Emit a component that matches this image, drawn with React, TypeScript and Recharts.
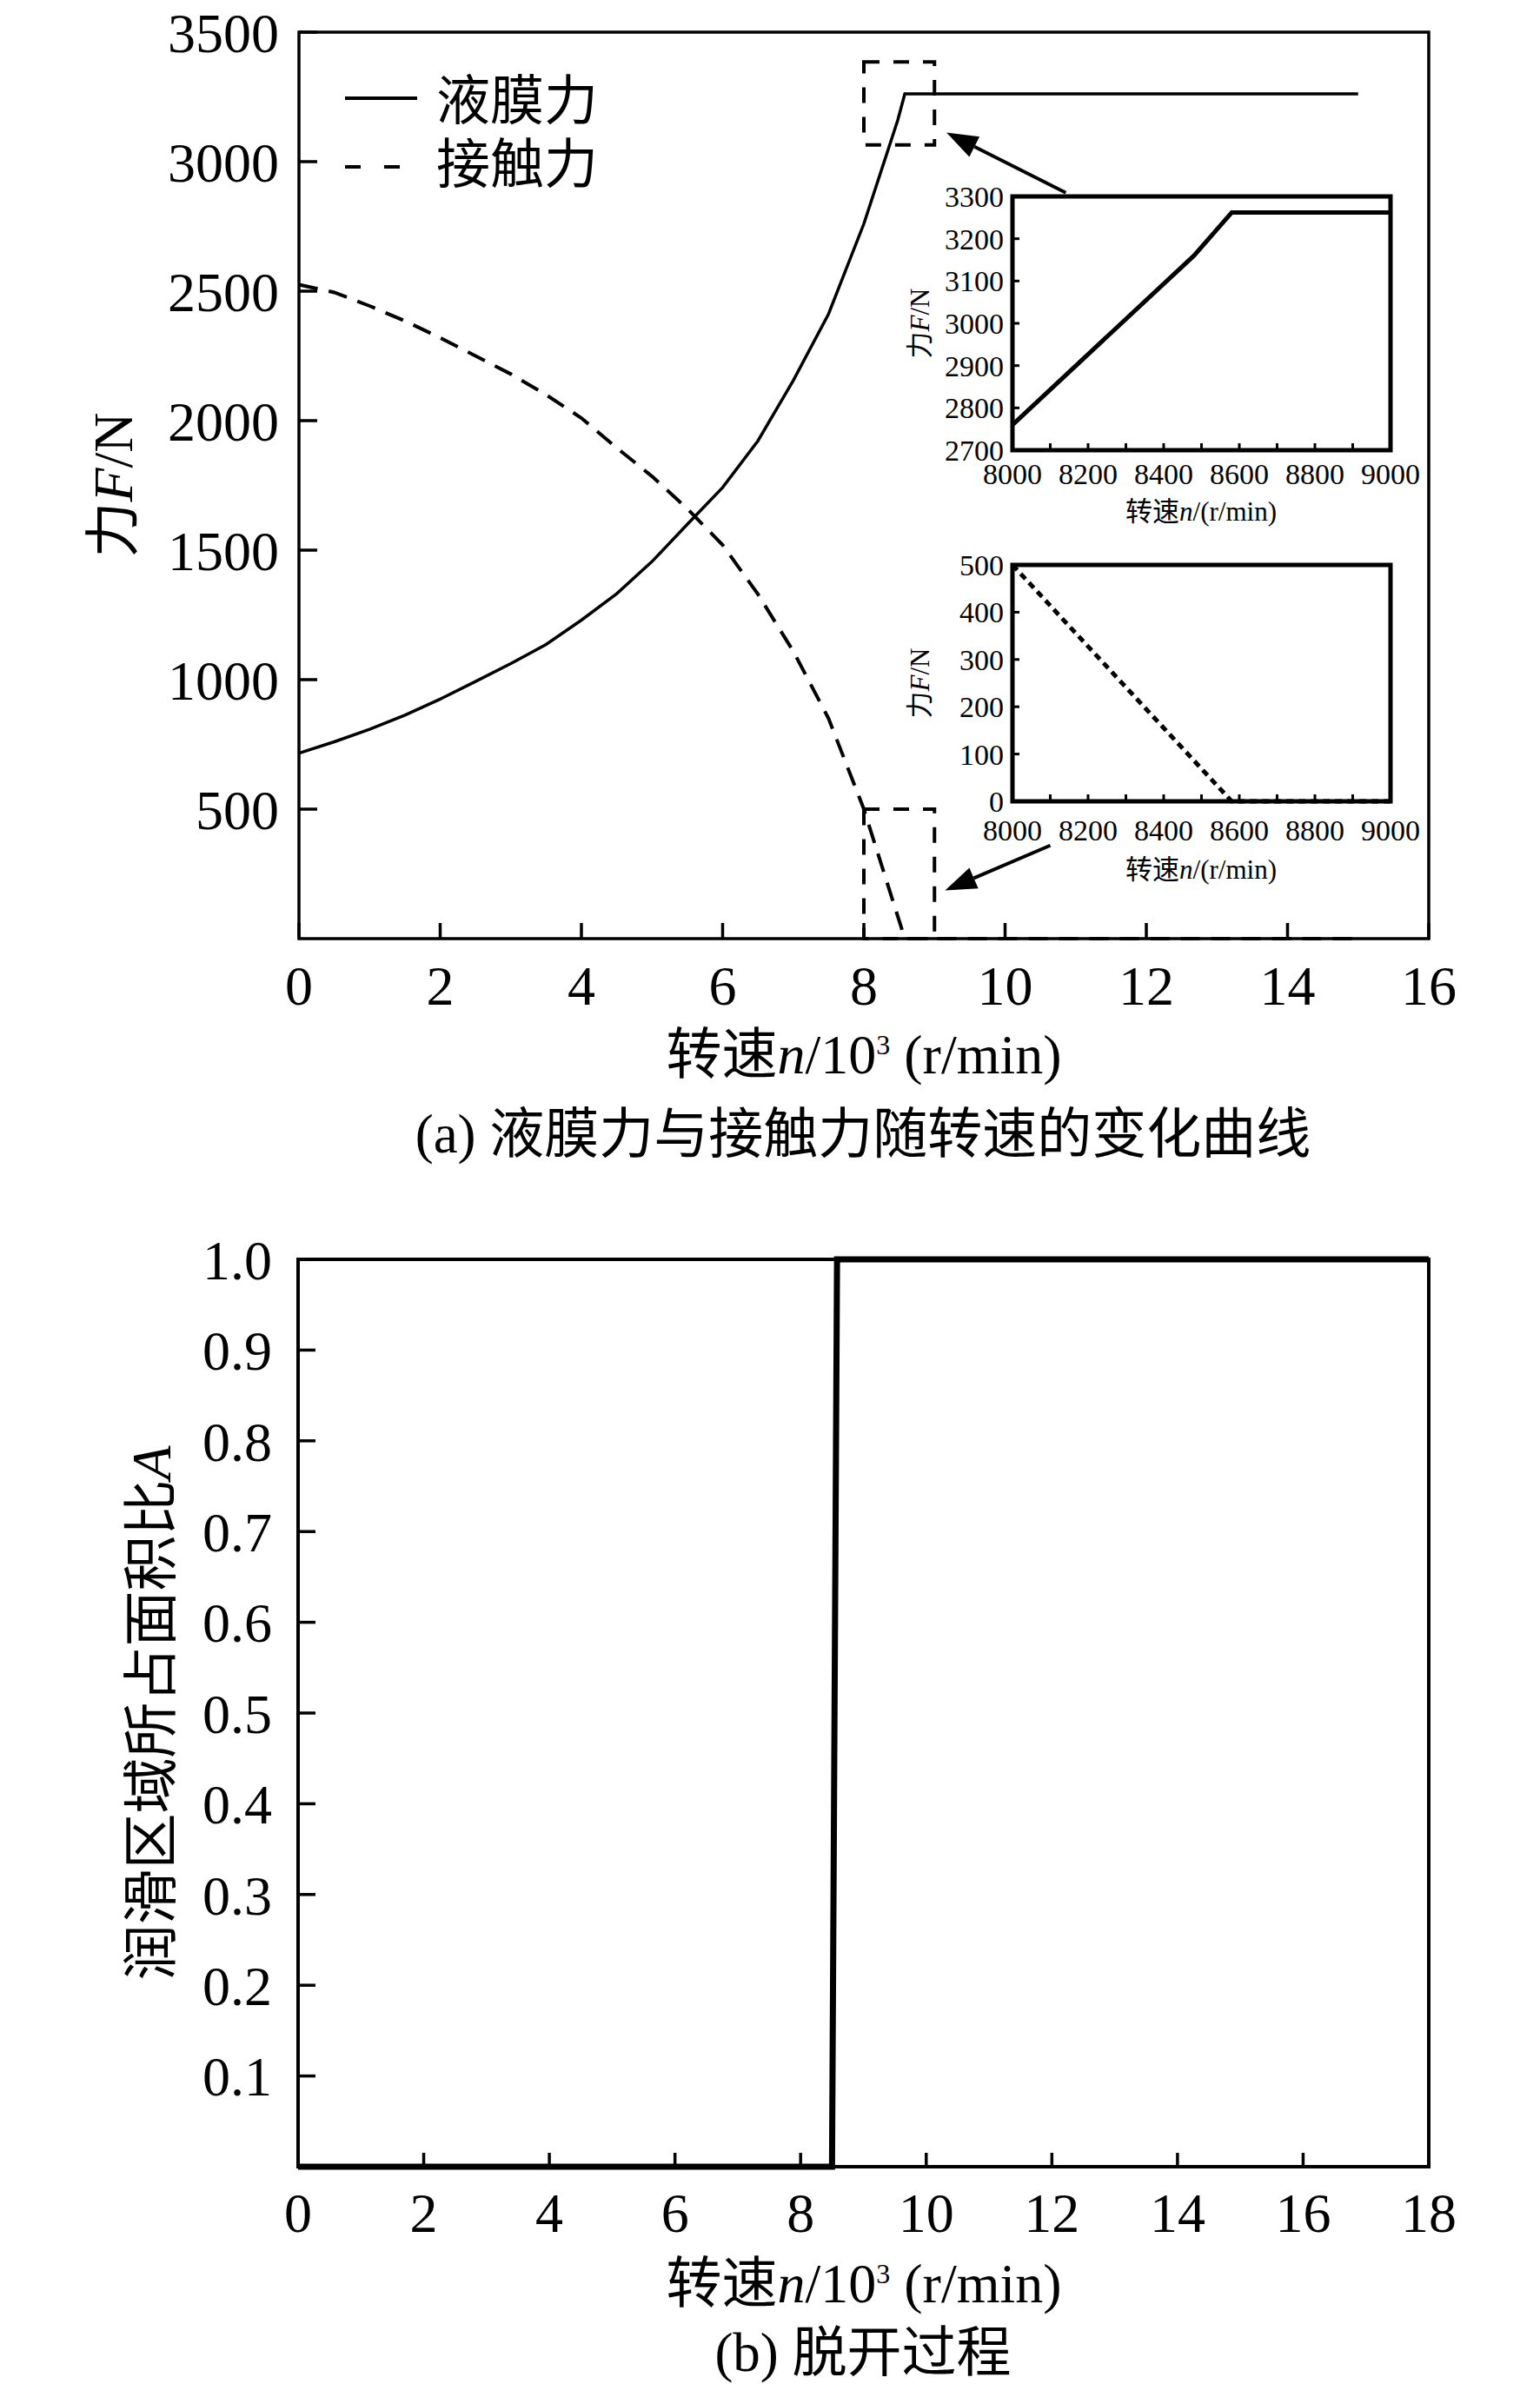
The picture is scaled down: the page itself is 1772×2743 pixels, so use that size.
import { LineChart, Line, XAxis, YAxis, ReferenceArea, ReferenceLine } from "recharts";

const FONT = '"Liberation Serif", "Times New Roman", "Noto Sans CJK SC", serif';

// (a) speed in 10^3 r/min, force in N
const filmSpeed = [0, 0.5, 1, 1.5, 2, 2.5, 3, 3.5, 4, 4.5, 5, 5.5, 6, 6.5, 7, 7.5, 8, 8.48, 8.58, 9, 10, 11, 12, 13, 14, 15];
const filmForce = [716, 760, 808, 863, 925, 993, 1062, 1136, 1230, 1332, 1456, 1600, 1742, 1922, 2155, 2412, 2760, 3160, 3262, 3262, 3262, 3262, 3262, 3262, 3262, 3262];
const contactSpeed = [0, 0.5, 1, 1.5, 2, 2.5, 3, 3.5, 4, 4.5, 5, 5.5, 6, 6.5, 7, 7.5, 8, 8.58, 9, 10, 11, 12, 13, 14, 15];
const contactForce = [2525, 2495, 2443, 2385, 2320, 2250, 2180, 2100, 2010, 1895, 1785, 1660, 1520, 1330, 1110, 850, 500, 0, 0, 0, 0, 0, 0, 0, 0];
const forceTicks = [500, 1000, 1500, 2000, 2500, 3000, 3500];
const speedTicksA = [0, 2, 4, 6, 8, 10, 12, 14, 16];

// zoomed insets, speed in r/min
const insetFilmSpeed = [8000, 8480, 8580, 9000];
const insetFilmForce = [2760, 3160, 3262, 3262];
const insetContactSpeed = [8000, 8580, 9000];
const insetContactForce = [500, 0, 0];
const insetSpeedTicks = [8000, 8100, 8200, 8300, 8400, 8500, 8600, 8700, 8800, 8900, 9000];
const insetFilmTicks = [2700, 2800, 2900, 3000, 3100, 3200, 3300];
const insetContactTicks = [0, 100, 200, 300, 400, 500];

// annotation boxes and arrows (data coords of chart a)
const zoomBoxTop = [8, 9, 3065, 3385];
const zoomBoxBottom = [8, 9, 0, 500];
const arrowTop = [10.86, 2880, 9.17, 3112];
const arrowBottom = [10.64, 360, 9.15, 186];

// (b) separation process
const speedB = [0, 8.5, 8.58, 18];
const ratioB = [0, 0, 1, 1];
const ratioTicks = [0.1, 0.2, 0.3, 0.4, 0.5, 0.6, 0.7, 0.8, 0.9, 1.0];
const speedTicksB = [0, 2, 4, 6, 8, 10, 12, 14, 16, 18];

const toRows = (xs: number[], ys: number[]) => xs.map((s, i) => ({ s, f: ys[i] }));

function ArrowShape(props: any) {
  const { x1, y1, x2, y2 } = props;
  const ang = Math.atan2(y2 - y1, x2 - x1);
  const len = 36;
  const half = 13;
  const bx = x2 - len * Math.cos(ang);
  const by = y2 - len * Math.sin(ang);
  const px = -Math.sin(ang) * half;
  const py = Math.cos(ang) * half;
  return (
    <g>
      <line x1={x1} y1={y1} x2={bx} y2={by} stroke="#000" strokeWidth={4} />
      <polygon points={`${x2},${y2} ${bx + px},${by + py} ${bx - px},${by - py}`} fill="#000" />
    </g>
  );
}

const abs = (left: number, top: number): React.CSSProperties => ({ position: "absolute", left, top });

function Centered({ x, y, size, rotate, children }: any) {
  return (
    <div
      style={{
        position: "absolute",
        left: x,
        top: y,
        transform: `translate(-50%, -50%)${rotate ? " rotate(-90deg)" : ""}`,
        whiteSpace: "nowrap",
        fontSize: size,
        lineHeight: 1,
        color: "#000",
      }}
    >
      {children}
    </div>
  );
}

function Inset({ top, film }: { top: number; film: boolean }) {
  const rows = film ? toRows(insetFilmSpeed, insetFilmForce) : toRows(insetContactSpeed, insetContactForce);
  const ticks = film ? insetFilmTicks : insetContactTicks;
  const tick = { fill: "#000", fontSize: 34, fontFamily: FONT };
  return (
    <div style={abs(1000, top)}>
      <LineChart width={680} height={440} margin={{ top: 56, left: 164, right: 80, bottom: film ? 91 : 111 }}>
        <XAxis
          type="number"
          dataKey="s"
          domain={[8000, 9000]}
          ticks={insetSpeedTicks}
          interval={0}
          tickFormatter={(v) => (v % 200 === 0 ? String(v) : "")}
          height={1}
          axisLine={false}
          tickSize={-8}
          tickMargin={film ? 23 : 29}
          tickLine={{ stroke: "#000", strokeWidth: 3 }}
          tick={tick}
        />
        <YAxis
          type="number"
          domain={[ticks[0], ticks[ticks.length - 1]]}
          ticks={ticks}
          interval={0}
          width={1}
          axisLine={false}
          tickSize={-8}
          tickMargin={18}
          tickLine={{ stroke: "#000", strokeWidth: 3 }}
          tick={tick}
        />
        <ReferenceArea
          x1={8000}
          x2={9000}
          y1={ticks[0]}
          y2={ticks[ticks.length - 1]}
          fill="none"
          stroke="#000"
          strokeWidth={5}
        />
        <Line
          data={rows}
          dataKey="f"
          type="linear"
          stroke="#000"
          strokeWidth={5}
          strokeDasharray={film ? undefined : "8 6"}
          dot={false}
          activeDot={false}
          isAnimationActive={false}
        />
      </LineChart>
    </div>
  );
}

export default function App() {
  const tick = { fill: "#000", fontSize: 64, fontFamily: FONT };
  const tickLine = { stroke: "#000", strokeWidth: 3.5 };
  return (
    <div
      style={{
        position: "absolute",
        left: 0,
        top: 0,
        width: 1772,
        height: 2743,
        background: "#fff",
        fontFamily: FONT,
        overflow: "hidden",
      }}
    >
      {/* (a) */}
      <div style={abs(0, 0)}>
        <LineChart width={1772} height={1180} margin={{ top: 37, left: 343, right: 128, bottom: 99 }}>
          <XAxis
            type="number"
            dataKey="s"
            domain={[0, 16]}
            ticks={speedTicksA}
            interval={0}
            height={1}
            axisLine={false}
            tickSize={-18}
            tickMargin={49}
            tickLine={tickLine}
            tick={tick}
          />
          <YAxis
            type="number"
            domain={[0, 3500]}
            ticks={forceTicks}
            interval={0}
            width={1}
            axisLine={false}
            tickSize={-21}
            tickMargin={44}
            tickLine={tickLine}
            tick={tick}
          />
          <ReferenceArea x1={0} x2={16} y1={0} y2={3500} fill="none" stroke="#000" strokeWidth={3.5} />
          <ReferenceArea
            x1={zoomBoxTop[0]}
            x2={zoomBoxTop[1]}
            y1={zoomBoxTop[2]}
            y2={zoomBoxTop[3]}
            fill="none"
            stroke="#000"
            strokeWidth={4}
            strokeDasharray="18 16"
          />
          <ReferenceArea
            x1={zoomBoxBottom[0]}
            x2={zoomBoxBottom[1]}
            y1={zoomBoxBottom[2]}
            y2={zoomBoxBottom[3]}
            fill="none"
            stroke="#000"
            strokeWidth={4}
            strokeDasharray="18 16"
          />
          <ReferenceLine
            segment={[
              { x: arrowTop[0], y: arrowTop[1] },
              { x: arrowTop[2], y: arrowTop[3] },
            ]}
            shape={ArrowShape}
          />
          <ReferenceLine
            segment={[
              { x: arrowBottom[0], y: arrowBottom[1] },
              { x: arrowBottom[2], y: arrowBottom[3] },
            ]}
            shape={ArrowShape}
          />
          <Line
            data={toRows(filmSpeed, filmForce)}
            dataKey="f"
            type="linear"
            stroke="#000"
            strokeWidth={3.5}
            dot={false}
            activeDot={false}
            isAnimationActive={false}
          />
          <Line
            data={toRows(contactSpeed, contactForce)}
            dataKey="f"
            type="linear"
            stroke="#000"
            strokeWidth={4}
            strokeDasharray="22 13"
            dot={false}
            activeDot={false}
            isAnimationActive={false}
          />
        </LineChart>
      </div>

      {/* legend of (a) */}
      <svg style={abs(390, 90)} width={100} height={130}>
        <line x1={7} y1={23} x2={90} y2={23} stroke="#000" strokeWidth={4} />
        <line x1={7} y1={102} x2={70} y2={102} stroke="#000" strokeWidth={4} strokeDasharray="18 27" />
      </svg>
      <div style={{ ...abs(502, 117), transform: "translateY(-50%)", fontSize: 62, lineHeight: 1 }}>液膜力</div>
      <div style={{ ...abs(502, 190), transform: "translateY(-50%)", fontSize: 62, lineHeight: 1 }}>接触力</div>

      <Inset top={170} film={true} />
      <Inset top={594} film={false} />

      <Centered x={1382} y={588} size={31}>
        转速<i>n</i>/(r/min)
      </Centered>
      <Centered x={1382} y={1000} size={31}>
        转速<i>n</i>/(r/min)
      </Centered>
      <Centered x={1058} y={372} size={31} rotate>
        力<i>F</i>/N
      </Centered>
      <Centered x={1058} y={786} size={31} rotate>
        力<i>F</i>/N
      </Centered>

      <Centered x={131} y={558} size={64} rotate>
        力<i>F</i>/N
      </Centered>
      <Centered x={994} y={1214} size={64}>
        转速<i>n</i>/10<sup style={{ fontSize: "0.5em" }}>3</sup> (r/min)
      </Centered>
      <Centered x={993} y={1305} size={63}>
        (a) 液膜力与接触力随转速的变化曲线
      </Centered>

      {/* (b) */}
      <div style={abs(0, 1380)}>
        <LineChart width={1772} height={1210} margin={{ top: 69, left: 342, right: 128, bottom: 96 }}>
          <XAxis
            type="number"
            dataKey="s"
            domain={[0, 18]}
            ticks={speedTicksB}
            interval={0}
            height={1}
            axisLine={false}
            tickSize={-16}
            tickMargin={46}
            tickLine={tickLine}
            tick={tick}
          />
          <YAxis
            type="number"
            domain={[0, 1]}
            ticks={ratioTicks}
            interval={0}
            width={1}
            axisLine={false}
            tickSize={-20}
            tickMargin={50}
            tickFormatter={(v) => Number(v).toFixed(1)}
            tickLine={tickLine}
            tick={tick}
          />
          <ReferenceArea x1={0} x2={18} y1={0} y2={1} fill="none" stroke="#000" strokeWidth={4} />
          <Line
            data={toRows(speedB, ratioB)}
            dataKey="f"
            type="linear"
            stroke="#000"
            strokeWidth={7}
            dot={false}
            activeDot={false}
            isAnimationActive={false}
          />
        </LineChart>
      </div>

      <Centered x={175} y={1971} size={64} rotate>
        润滑区域所占面积比<i>A</i>
      </Centered>
      <Centered x={994} y={2628} size={64}>
        转速<i>n</i>/10<sup style={{ fontSize: "0.5em" }}>3</sup> (r/min)
      </Centered>
      <Centered x={993} y={2707} size={63}>
        (b) 脱开过程
      </Centered>
    </div>
  );
}
